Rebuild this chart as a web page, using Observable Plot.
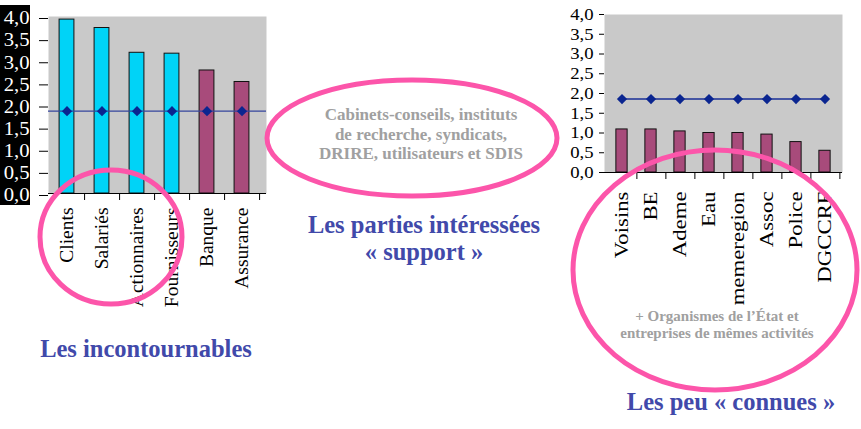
<!DOCTYPE html>
<html><head><meta charset="utf-8">
<script src="https://cdn.jsdelivr.net/npm/d3@7"></script>
<script src="https://cdn.jsdelivr.net/npm/@observablehq/plot@0.6"></script>
<style>
body{margin:0;background:#fff;}
#wrap{position:relative;width:861px;height:429px;overflow:hidden;font-family:"Liberation Serif",serif;background:#fff;}
#wrap > *{position:absolute;}
</style></head><body><div id="wrap"></div>
<script>
// ---- data ----
const leftCategories = ["Clients","Salariés","Actionnaires","Fournisseurs","Banque","Assurance"];
const leftValues = [3.93,3.74,3.18,3.16,2.78,2.52];
const leftGroups = ["interne","interne","interne","interne","finance","finance"];
const rightCategories = ["Voisins","BE","Ademe","Eau","memeregion","Assoc","Police","DGCCRF"];
const rightValues = [1.09,1.09,1.04,1.0,1.0,0.96,0.77,0.55];
const averageScore = 1.86;
const yTicks = [0,0.5,1,1.5,2,2.5,3,3.5,4];
const yTickLabels = ["0,0","0,5","1,0","1,5","2,0","2,5","3,0","3,5","4,0"];

const leftData = leftCategories.map((name,i)=>({name, value:leftValues[i], group:leftGroups[i]}));
const rightData = rightCategories.map((name,i)=>({name, value:rightValues[i]}));
const fmt = v => yTickLabels[yTicks.indexOf(v)];

const wrap = document.getElementById("wrap");
const serif = '"Liberation Serif", "Times New Roman", serif';

// horizontally stretch axis label glyphs (the original slide was stretched)
function stretch(svgEl, selector, s){
  svgEl.querySelectorAll(selector).forEach(t=>{
    t.setAttribute("font-family", serif);
    t.style.fontFamily = serif;
    const tr = t.getAttribute("transform");
    if (tr && s !== 1) { t.setAttribute("transform", tr + ` scale(${s},1)`); }
  });
}

// black box behind the left tick labels
const blk = document.createElement("div");
Object.assign(blk.style,{left:"0px",top:"5px",width:"30px",height:"200px",background:"#000"});
wrap.appendChild(blk);

// ---- left chart ----
{
  const W=280,H=320,mL=48,mR=21,mT=16,mB=127,ext=-7;
  const step=(W-mL-mR)/leftCategories.length, inset=(step-15)/2;
  const p = Plot.plot({
    width:W,height:H,marginLeft:mL,marginRight:mR,marginTop:mT,marginBottom:mB,
    style:{fontFamily:serif,background:"transparent",overflow:"visible"},
    x:{domain:leftCategories,padding:0,label:null},
    y:{domain:[0,4],label:null},
    color:{domain:["interne","finance"],range:["#00d3f7","#a84b7b"]},
    marks:[
      Plot.frame({fill:"#c9c9c9",stroke:null,insetRight:ext}),
      Plot.barY(leftData,{x:"name",y:"value",fill:"group",stroke:"#111",strokeWidth:1,insetLeft:inset,insetRight:inset}),
      Plot.ruleY([averageScore],{stroke:"#34449c",strokeWidth:1.2,insetRight:ext}),
      Plot.dot(leftData,{x:"name",y:()=>averageScore,symbol:"diamond2",r:4.6,fill:"#0a2590",stroke:"none"}),
      Plot.ruleY([0],{stroke:"#000",strokeWidth:1.2,insetRight:ext}),
      Plot.axisY({ticks:yTicks,tickFormat:fmt,tickSize:9,tickPadding:10,fontSize:18,fill:"#fff",line:true,label:null,dy:2}),
      Plot.axisX({tickSize:7,text:null,dx:step/2}),
      Plot.axisX({tickSize:0,tickPadding:14,tickRotate:-90,fontSize:19.5,fill:"#000",label:null})
    ]
  });
  p.style.left="0px"; p.style.top="0px";
  wrap.appendChild(p);
  p.querySelectorAll('g[aria-label="y-axis tick"], g[aria-label="y-axis line"]').forEach(g=>g.setAttribute("stroke","#000"));
  stretch(p, 'g[aria-label="y-axis tick label"] text', 1.15);
  stretch(p, 'g[aria-label="x-axis tick label"] text', 1);
}

// ---- right chart ----
{
  const W=301,H=330,mL=44,mR=19,mT=14,mB=158;
  const step=(W-mL-mR)/rightCategories.length, inset=(step-12)/2;
  const p = Plot.plot({
    width:W,height:H,marginLeft:mL,marginRight:mR,marginTop:mT,marginBottom:mB,
    style:{fontFamily:serif,background:"transparent",overflow:"visible"},
    x:{domain:rightCategories,padding:0,label:null},
    y:{domain:[0,4],label:null},
    marks:[
      Plot.frame({fill:"#c9c9c9",stroke:null}),
      Plot.barY(rightData,{x:"name",y:"value",fill:"#a84b7b",stroke:"#111",strokeWidth:1,insetLeft:inset,insetRight:inset}),
      Plot.lineY(rightData,{x:"name",y:()=>averageScore,stroke:"#1a2f96",strokeWidth:1.4}),
      Plot.dot(rightData,{x:"name",y:()=>averageScore,symbol:"diamond2",r:4.6,fill:"#0a2590",stroke:"none"}),
      Plot.ruleY([0],{stroke:"#000",strokeWidth:1.2}),
      Plot.axisY({ticks:yTicks,tickFormat:fmt,tickSize:5,tickPadding:6,fontSize:17,fill:"#000",line:true,label:null}),
      Plot.axisX({tickSize:7,text:null,dx:step/2}),
      Plot.axisX({tickSize:0,tickPadding:19,tickRotate:-90,fontSize:19,fill:"#000",label:null})
    ]
  });
  p.style.left="560px"; p.style.top="0px";
  wrap.appendChild(p);
  stretch(p, 'g[aria-label="y-axis tick label"] text', 1.1);
  stretch(p, 'g[aria-label="x-axis tick label"] text', 1.2);
}

// ---- annotations overlay ----
const svg = d3.select(wrap).append("svg")
  .attr("width",861).attr("height",429)
  .style("left","0px").style("top","0px").style("pointer-events","none");
const pink="#fc55aa";
[[111,237,71,67],[412,138,145,58],[715,270,142,120]].forEach(([cx,cy,rx,ry])=>{
  svg.append("ellipse").attr("cx",cx).attr("cy",cy).attr("rx",rx).attr("ry",ry)
    .attr("fill","none").attr("stroke",pink).attr("stroke-width",5);
});
function txt(x,y,s,size,color){
  svg.append("text").attr("x",x).attr("y",y).attr("text-anchor","middle")
    .style("font-family",serif).attr("font-weight","bold").attr("font-size",size)
    .attr("fill",color).text(s);
}
const gray="#a0a0a0", blue="#4149aa";
txt(421,120,"Cabinets-conseils, instituts",17,gray);
txt(421,140,"de recherche, syndicats,",17,gray);
txt(421,159,"DRIRE, utilisateurs et SDIS",17,gray);
txt(424,233,"Les parties intéressées",24.5,blue);
txt(424,260,"« support »",24.5,blue);
txt(146,357,"Les incontournables",24.5,blue);
txt(717,321,"+ Organismes de l’État et",15,gray);
txt(717,338,"entreprises de mêmes activités",15,gray);
txt(731,410,"Les peu « connues »",24.5,blue);
</script></body></html>
